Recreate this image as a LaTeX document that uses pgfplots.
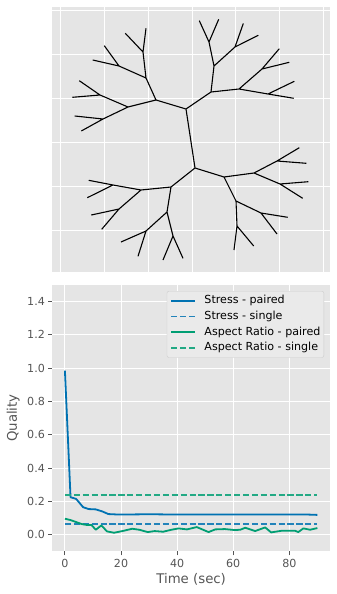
\documentclass[border=0pt]{standalone}
\usepackage{pgfplots}
\pgfplotsset{compat=1.18}
\usepackage{fontspec}
\setmainfont{DejaVu Sans}
\definecolor{bggray}{HTML}{E5E5E5}
\definecolor{tickgray}{HTML}{555555}
\definecolor{bluep}{HTML}{0072B2}
\definecolor{blues}{HTML}{2283BA}
\definecolor{greenp}{HTML}{009E73}
\definecolor{greens}{HTML}{22A984}
\definecolor{legbg}{HTML}{EAEAEA}
\definecolor{legedge}{HTML}{CCCCCC}
\begin{document}
\begin{tikzpicture}
\path[use as bounding box] (0pt,0pt) rectangle (337pt,-594pt);
% ---------- top: tree ----------
\begin{axis}[
  at={(52pt,-271.7pt)}, anchor=south west,
  scale only axis, width=278pt, height=264.4pt,
  xmin=52, xmax=330, ymin=-271.7, ymax=-7.3,
  axis background/.style={fill=bggray},
  axis line style={draw=none},
  xtick={60.7,104.5,148.3,192,235.8,279.5,323.3},
  ytick={-230,-186.2,-142.4,-98.6,-54.8,-11},
  xticklabels={}, yticklabels={},
  major tick length=0pt,
  grid=major, grid style={white, line width=1pt},
  unbounded coords=jump,
]
\addplot[black, line width=1.1pt, line join=round] coordinates {
(156,-100) (186,-109) (211,-92) (nan,nan)
(186,-109) (195,-168) (nan,nan)
(146,-78) (156,-100) (128,-107) (nan,nan)
(143,-52) (146,-78) (119,-66) (nan,nan)
(146,-28.3) (143,-52) (125.3,-33.3) (nan,nan)
(104.3,-45.7) (119,-66) (92.7,-60) (nan,nan)
(100,-95) (128,-107) (103,-119) (nan,nan)
(79.3,-80.7) (100,-95) (72.3,-97.3) (nan,nan)
(74.7,-116) (103,-119) (81.3,-131) (nan,nan)
(214,-66) (211,-92) (239,-89) (nan,nan)
(209,-42) (214,-66) (235,-47) (nan,nan)
(199.3,-20.7) (209,-42) (218.7,-19.3) (nan,nan)
(243.3,-23.5) (235,-47) (258.3,-35.3) (nan,nan)
(262,-69) (239,-89) (268,-94) (nan,nan)
(279.3,-48.7) (262,-69) (289.3,-62.3) (nan,nan)
(294.3,-81.3) (268,-94) (293.7,-98.3) (nan,nan)
(171,-187) (195,-168) (224,-177) (nan,nan)
(141,-190) (171,-187) (167,-212) (nan,nan)
(113,-185) (141,-190) (119,-209) (nan,nan)
(88.7,-180.3) (113,-185) (87.3,-197.7) (nan,nan)
(91.3,-215) (119,-209) (101.7,-229.3) (nan,nan)
(146,-231) (167,-212) (173,-236) (nan,nan)
(121,-242) (146,-231) (138,-256.3) (nan,nan)
(163,-260) (173,-236) (183,-258.3) (nan,nan)
(254,-173) (224,-177) (236,-201) (nan,nan)
(277,-161) (254,-173) (280,-184) (nan,nan)
(299.3,-147.7) (277,-161) (306.3,-163.3) (nan,nan)
(308.3,-181.7) (280,-184) (302.7,-198.3) (nan,nan)
(261,-213) (236,-201) (237,-226) (nan,nan)
(287.7,-217.3) (261,-213) (277,-234) (nan,nan)
(234,-250) (237,-226) (253.7,-246)
};
\end{axis}
% ---------- bottom: quality ----------
\begin{axis}[
  at={(52.3pt,-551.4pt)}, anchor=south west,
  scale only axis, width=277.7pt, height=266.7pt,
  xmin=-4.5, xmax=94.5, ymin=-0.1, ymax=1.5,
  axis background/.style={fill=bggray},
  axis line style={draw=none},
  xtick={0,20,40,60,80},
  ytick={0,0.2,0.4,0.6,0.8,1.0,1.2,1.4},
  yticklabel style={/pgf/number format/.cd, fixed, fixed zerofill, precision=1},
  /pgf/number format/assume math mode=true,
  tick label style={font=\fontsize{11.1}{13}\selectfont, text=tickgray},
  tick pos=left, tick align=outside, major tick length=3.9pt,
  tick style={color=tickgray, line width=0.9pt},
  grid=major, grid style={white, line width=1pt},
  xlabel={Time (sec)}, ylabel={Quality},
  label style={font=\fontsize{13.3}{15}\selectfont, text=tickgray},
  xlabel style={at={(axis description cs:0.5,-0.1035)}, anchor=center},
  ylabel style={at={(axis description cs:-0.1404,0.5)}, anchor=center},
  legend cell align=left,
  legend image code/.code={\draw[#1] (0pt,0pt) -- (23.3pt,0pt);},
  legend style={at={(axis description cs:1,1)}, anchor=north east,
    xshift=-6pt, yshift=-6.3pt,
    fill=legbg, draw=legedge, rounded corners=2pt,
    font=\fontsize{11.1}{13}\selectfont,
    inner xsep=3.4pt, inner ysep=4.1pt,
    nodes={inner sep=0pt, text height=8.5pt, text depth=2.5pt},
    row sep=4.7pt, column sep=9pt},
]
\addplot[bluep, line width=1.8pt, line join=round] coordinates {
(0,0.984) (2,0.225) (4,0.215) (5,0.195) (6.5,0.165) (8.5,0.154) (11,0.152)
(13.3,0.14) (15.5,0.124) (18,0.122) (25,0.122) (30,0.123) (35,0.122)
(40,0.121) (45,0.122) (50,0.121) (55,0.122) (60,0.121) (65,0.122)
(70,0.121) (75,0.122) (80,0.121) (85,0.122) (90,0.119)
};
\addlegendentry{Stress - paired}
\addplot[blues, line width=1.8pt, dash pattern=on 6.2pt off 2.7pt] coordinates {
(0,0.064) (90,0.064)
};
\addlegendentry{Stress - single}
\addplot[greenp, line width=1.8pt, line join=round] coordinates {
(0,0.096) (2,0.088) (4,0.076) (6,0.064) (8,0.058) (9.5,0.058) (11,0.03)
(13,0.056) (15,0.02) (17.5,0.012) (20.5,0.022) (24,0.036) (26.5,0.03)
(29.5,0.016) (32,0.022) (35,0.018) (38,0.03) (40.5,0.038) (43.5,0.032)
(47,0.046) (51.2,0.016) (53.6,0.032) (57,0.034) (60.6,0.028) (62.5,0.03)
(64.3,0.042) (67.8,0.022) (71.4,0.044) (73.5,0.014) (77.3,0.024) (82,0.024)
(83.2,0.016) (85,0.038) (87.4,0.03) (90,0.04)
};
\addlegendentry{Aspect Ratio - paired}
\addplot[greens, line width=1.8pt, dash pattern=on 6.2pt off 2.7pt] coordinates {
(0,0.24) (90,0.24)
};
\addlegendentry{Aspect Ratio - single}
\end{axis}
\end{tikzpicture}
\end{document}
